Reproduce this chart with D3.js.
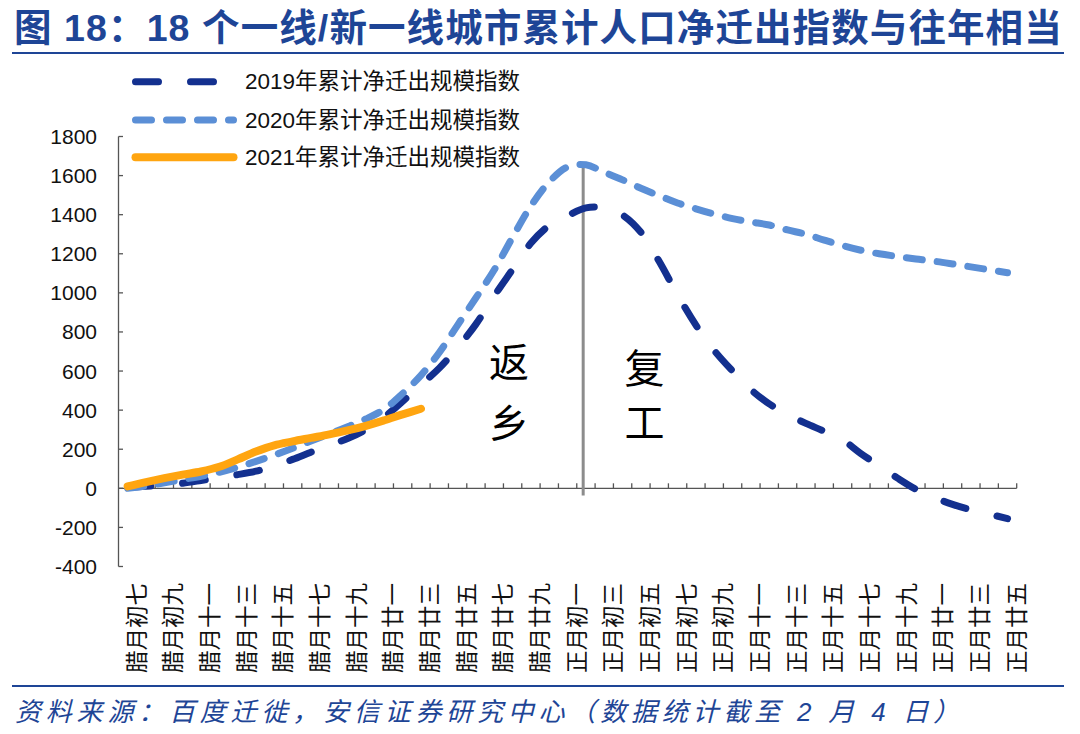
<!DOCTYPE html>
<html><head><meta charset="utf-8">
<script src="https://cdn.jsdelivr.net/npm/d3@7"></script>
<style>body{margin:0;background:#fff} svg{display:block}</style>
</head><body><svg id="c" width="1080" height="734"></svg>
<script>
// ---------- data ----------
const categories = [
 '腊月初七','腊月初八','腊月初九','腊月初十','腊月十一','腊月十二','腊月十三','腊月十四','腊月十五','腊月十六',
 '腊月十七','腊月十八','腊月十九','腊月二十','腊月廿一','腊月廿二','腊月廿三','腊月廿四','腊月廿五','腊月廿六',
 '腊月廿七','腊月廿八','腊月廿九','腊月三十',
 '正月初一','正月初二','正月初三','正月初四','正月初五','正月初六','正月初七','正月初八','正月初九','正月初十',
 '正月十一','正月十二','正月十三','正月十四','正月十五','正月十六','正月十七','正月十八','正月十九','正月二十',
 '正月廿一','正月廿二','正月廿三','正月廿四','正月廿五'];
const yTicks = [-400,-200,0,200,400,600,800,1000,1200,1400,1600,1800];
const seriesNames = ['2019年累计净迁出规模指数','2020年累计净迁出规模指数','2021年累计净迁出规模指数'];
const s2019 = [5,10,16,26,40,55,70,88,115,148,185,220,255,300,365,445,530,615,720,840,985,1120,1255,1345,
  1395,1435,1435,1398,1310,1160,990,835,705,600,505,432,378,332,292,248,178,115,52,-5,-48,-82,-110,-132,-155];
const s2020 = [0,12,28,45,62,82,108,138,170,205,242,278,315,355,405,485,578,695,835,975,1118,1285,1445,1568,
  1645,1655,1617,1578,1535,1497,1460,1430,1403,1380,1363,1347,1322,1300,1270,1242,1218,1200,1186,1173,1162,1148,1133,1118,1103];
const s2021 = [10,32,52,70,86,110,148,188,220,240,258,276,296,320,348,378,407];
const title = '图 18：18 个一线/新一线城市累计人口净迁出指数与往年相当';
const source = '资料来源：百度迁徙，安信证券研究中心（数据统计截至 2 月 4 日）';

// ---------- layout ----------
const svg = d3.select('#c');
const C_TITLE = '#1E4596';
const colors = ['#13308F', '#5B8FD6', '#FFA510'];
const dashes = ['23,32', '16,15', null];
const widths = [7, 7, 8];
const FONT = '"Liberation Sans", Arial, "Noto Sans CJK SC", sans-serif';
const CJK = '"Noto Sans CJK SC", sans-serif';

const x = d3.scaleBand().domain(categories).range([118.5, 1016.7]).padding(0);
const xi = d3.scaleLinear().domain([-0.5, categories.length - 0.5]).range([118.5, 1016.7]);
const y = d3.scaleLinear().domain([-400, 1800]).range([566.5, 136.5]);
const cx = i => x(categories[i]) + x.bandwidth() / 2;

// title
svg.append('text').attr('x', 14).attr('y', 28).attr('dominant-baseline', 'central')
  .attr('font-family', FONT).attr('font-weight', 'bold').attr('font-size', 37.5)
  .attr('letter-spacing', 1.1).attr('fill', C_TITLE).text(title);
svg.append('line').attr('x1', 12).attr('x2', 1064).attr('y1', 53).attr('y2', 53)
  .attr('stroke', C_TITLE).attr('stroke-width', 2);
// footer
svg.append('line').attr('x1', 12).attr('x2', 1064).attr('y1', 686).attr('y2', 686)
  .attr('stroke', C_TITLE).attr('stroke-width', 2);
svg.append('text').attr('x', 15).attr('y', 712).attr('dominant-baseline', 'central')
  .attr('font-family', FONT).attr('font-style', 'italic').attr('font-size', 26)
  .attr('letter-spacing', 4.8).attr('fill', C_TITLE).text(source);

const g = svg.append('g');

// y axis
const axisColor = '#555';
g.append('line').attr('x1', 118.5).attr('x2', 118.5).attr('y1', y(1800)).attr('y2', y(-400))
  .attr('stroke', axisColor).attr('stroke-width', 1.3);
yTicks.forEach(t => {
  g.append('line').attr('x1', 118.5).attr('x2', 123).attr('y1', y(t)).attr('y2', y(t))
    .attr('stroke', axisColor).attr('stroke-width', 1.3);
  g.append('text').attr('x', 97).attr('y', y(t)).attr('text-anchor', 'end')
    .attr('dominant-baseline', 'central').attr('font-family', FONT).attr('font-size', 21)
    .attr('fill', '#111').text(t);
});
// x axis at zero
g.append('line').attr('x1', 118.5).attr('x2', 1016.7).attr('y1', y(0)).attr('y2', y(0))
  .attr('stroke', axisColor).attr('stroke-width', 1.3);
categories.forEach((c, i) => {
  const bx = x(c) + x.bandwidth();
  g.append('line').attr('x1', bx).attr('x2', bx).attr('y1', y(0)).attr('y2', y(0) - 5)
    .attr('stroke', axisColor).attr('stroke-width', 1.3);
  if (i % 2 === 0) {
    g.append('text').attr('transform', `translate(${cx(i) + 7},583) rotate(-90)`)
      .attr('text-anchor', 'end').attr('dominant-baseline', 'central')
      .attr('font-family', CJK).attr('font-size', 22.5).attr('fill', '#111').text(c);
  }
});

// divider line (between 返乡 and 复工)
g.append('line').attr('x1', xi(24.85)).attr('x2', xi(24.85)).attr('y1', y(1660)).attr('y2', y(-37))
  .attr('stroke', '#8C8C8C').attr('stroke-width', 3);

// series
const line = d3.line().x((d, i) => cx(i)).y(d => y(d)).curve(d3.curveCatmullRom.alpha(0.5));
[s2019, s2020, s2021].forEach((s, k) => {
  g.append('path').attr('d', line(s)).attr('fill', 'none')
    .attr('stroke', colors[k]).attr('stroke-width', widths[k])
    .attr('stroke-linecap', 'round').attr('stroke-linejoin', 'round')
    .attr('stroke-dasharray', dashes[k]);
});

// annotations
const annoFont = 40;
[['返', 20.8, 655], ['乡', 20.8, 346], ['复', 28.2, 628], ['工', 28.2, 351]].forEach(([t, ix, v]) => {
  g.append('text').attr('x', xi(ix)).attr('y', y(v)).attr('text-anchor', 'middle')
    .attr('dominant-baseline', 'central').attr('font-family', CJK).attr('font-size', annoFont)
    .attr('fill', '#000').text(t);
});

// legend
const legY = [81.7, 120, 157.3];
seriesNames.forEach((n, k) => {
  g.append('line').attr('x1', 135.5).attr('x2', 233.5).attr('y1', legY[k]).attr('y2', legY[k])
    .attr('stroke', colors[k]).attr('stroke-width', widths[k]).attr('stroke-linecap', 'round')
    .attr('stroke-dasharray', dashes[k]);
  g.append('text').attr('x', 245).attr('y', legY[k]).attr('dominant-baseline', 'central')
    .attr('font-family', FONT).attr('font-size', 22.5).attr('fill', '#111').text(n);
});
</script></body></html>
